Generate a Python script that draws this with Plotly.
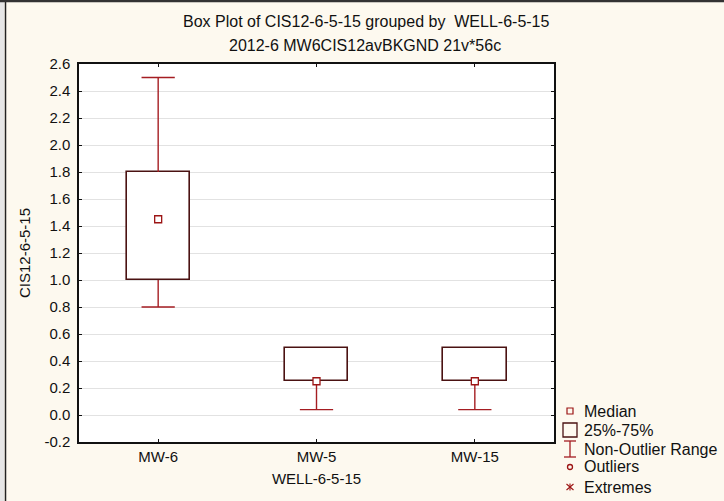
import plotly.graph_objects as go

# ---- data ----
categories = ["MW-6", "MW-5", "MW-15"]
q1 = [1.0, 0.25, 0.25]
median = [1.45, 0.25, 0.25]
q3 = [1.8, 0.5, 0.5]
whisker_min = [0.8, 0.04, 0.04]
whisker_max = [2.5, 0.5, 0.5]
y_ticks = [-0.2, 0.0, 0.2, 0.4, 0.6, 0.8, 1.0, 1.2, 1.4, 1.6, 1.8, 2.0, 2.2, 2.4, 2.6]
legend_labels = ["Median", "25%-75%", "Non-Outlier Range", "Outliers", "Extremes"]

W, H = 724, 501
L, R, T, B = 79, 554, 64, 442  # plot area in px
BG = "#fdf9ef"
BOX_C = "#4a1212"
WH_C = "#a51d22"
MED_C = "#9c1414"
FONT = "Arial, Liberation Sans, sans-serif"
CAP = 0.105
BOXW = 0.4

def px2x(px):
    return (px - L) / (R - L)

def py2y(py):
    return (B - py) / (B - T)

xs = list(range(len(categories)))

fig = go.Figure()

# boxes
fig.add_trace(go.Bar(
    x=xs, y=[a - b for a, b in zip(q3, q1)], base=q1, width=BOXW,
    marker=dict(color="white", line=dict(color=BOX_C, width=1.6)),
    showlegend=False, hoverinfo="skip"))

# whiskers with caps
wx, wy = [], []
for i in xs:
    if whisker_max[i] > q3[i]:
        wx += [i, i, None, i - CAP, i + CAP, None]
        wy += [q3[i], whisker_max[i], None, whisker_max[i], whisker_max[i], None]
    if whisker_min[i] < q1[i]:
        wx += [i, i, None, i - CAP, i + CAP, None]
        wy += [q1[i], whisker_min[i], None, whisker_min[i], whisker_min[i], None]
fig.add_trace(go.Scatter(x=wx, y=wy, mode="lines", line=dict(color=WH_C, width=1.4),
                         showlegend=False, hoverinfo="skip", connectgaps=False))

# medians
fig.add_trace(go.Scatter(
    x=xs, y=median, mode="markers",
    marker=dict(symbol="square", size=7, color="white", line=dict(color=MED_C, width=1.3)),
    showlegend=False, hoverinfo="skip"))

shapes = []
# frame decorations
shapes.append(dict(type="rect", xref="paper", yref="paper", x0=px2x(0), x1=px2x(4), y0=py2y(H), y1=py2y(0),
                   fillcolor="#e6e6e6", line=dict(width=0), layer="below"))
shapes.append(dict(type="line", xref="paper", yref="paper", x0=px2x(5.5), x1=px2x(5.5), y0=py2y(H), y1=py2y(0),
                   line=dict(color="#222", width=1.5)))
shapes.append(dict(type="rect", xref="paper", yref="paper", x0=px2x(0), x1=px2x(W), y0=py2y(2.2), y1=py2y(0),
                   fillcolor="#333", line=dict(width=0)))

# custom legend
gx = 570
rows = [411, 430, 449, 467, 487]
shapes.append(dict(type="rect", xref="paper", yref="paper", x0=px2x(gx - 3), x1=px2x(gx + 3),
                   y0=py2y(rows[0] + 3), y1=py2y(rows[0] - 3), line=dict(color=MED_C, width=1.2)))
shapes.append(dict(type="rect", xref="paper", yref="paper", x0=px2x(gx - 7), x1=px2x(gx + 7),
                   y0=py2y(rows[1] + 7), y1=py2y(rows[1] - 7), line=dict(color=BOX_C, width=1.3)))
for (x0, y0, x1, y1) in [(gx, rows[2] - 8, gx, rows[2] + 8), (gx - 6, rows[2] - 8, gx + 6, rows[2] - 8),
                         (gx - 6, rows[2] + 8, gx + 6, rows[2] + 8)]:
    shapes.append(dict(type="line", xref="paper", yref="paper", x0=px2x(x0), x1=px2x(x1),
                       y0=py2y(y0), y1=py2y(y1), line=dict(color=WH_C, width=1.3)))
shapes.append(dict(type="circle", xref="paper", yref="paper", x0=px2x(gx - 2.5), x1=px2x(gx + 2.5),
                   y0=py2y(rows[3] + 2.5), y1=py2y(rows[3] - 2.5), line=dict(color=MED_C, width=1.3)))
# extremes asterisk drawn as crossing strokes
for (x0, y0, x1, y1) in [(gx, rows[4] - 3.5, gx, rows[4] + 3.5), (gx - 3.5, rows[4] - 3, gx + 3.5, rows[4] + 3),
                         (gx - 3.5, rows[4] + 3, gx + 3.5, rows[4] - 3)]:
    shapes.append(dict(type="line", xref="paper", yref="paper", x0=px2x(x0), x1=px2x(x1),
                       y0=py2y(y0), y1=py2y(y1), line=dict(color=MED_C, width=1.1)))

annotations = []
for lab, ry in zip(legend_labels, rows):
    annotations.append(dict(text=lab, xref="paper", yref="paper", x=px2x(582), y=py2y(ry),
                            xanchor="left", yanchor="middle", showarrow=False,
                            font=dict(family=FONT, size=16, color="#111")))
# titles
annotations.append(dict(text="Box Plot of CIS12-6-5-15 grouped by&nbsp;&nbsp;WELL-6-5-15", xref="paper", yref="paper",
                        x=px2x(366), y=py2y(22), xanchor="center", yanchor="middle", showarrow=False,
                        font=dict(family=FONT, size=16, color="#111")))
annotations.append(dict(text="2012-6 MW6CIS12avBKGND 21v*56c", xref="paper", yref="paper",
                        x=px2x(365), y=py2y(45), xanchor="center", yanchor="middle", showarrow=False,
                        font=dict(family=FONT, size=16, color="#111")))

fig.update_layout(
    width=W, height=H,
    margin=dict(l=L, r=W - R, t=T, b=H - B, pad=0),
    paper_bgcolor=BG, plot_bgcolor="white",
    font=dict(family=FONT, size=15, color="#111"),
    shapes=shapes, annotations=annotations,
    showlegend=False, bargap=0,
    xaxis=dict(range=[-0.5, 2.5], tickmode="array", tickvals=xs, ticktext=categories,
               ticks="inside", ticklen=3, tickcolor="#111", mirror="ticks", showline=True,
               linecolor="#111", linewidth=1.5, showgrid=False, zeroline=False,
               title=dict(text="WELL-6-5-15", standoff=10, font=dict(size=15)),
               tickfont=dict(size=15)),
    yaxis=dict(range=[-0.2, 2.6], tickmode="array", tickvals=y_ticks,
               ticktext=[f"{v:.1f}" for v in y_ticks],
               ticks="inside", ticklen=3, tickcolor="#111", mirror="ticks", showline=True,
               linecolor="#111", linewidth=1.5, showgrid=True, gridcolor="#e2e2e2", gridwidth=1,
               zeroline=False, ticklabelstandoff=4,
               title=dict(text="CIS12-6-5-15", standoff=10, font=dict(size=15)),
               tickfont=dict(size=15)),
)

fig.write_html("out.html")
